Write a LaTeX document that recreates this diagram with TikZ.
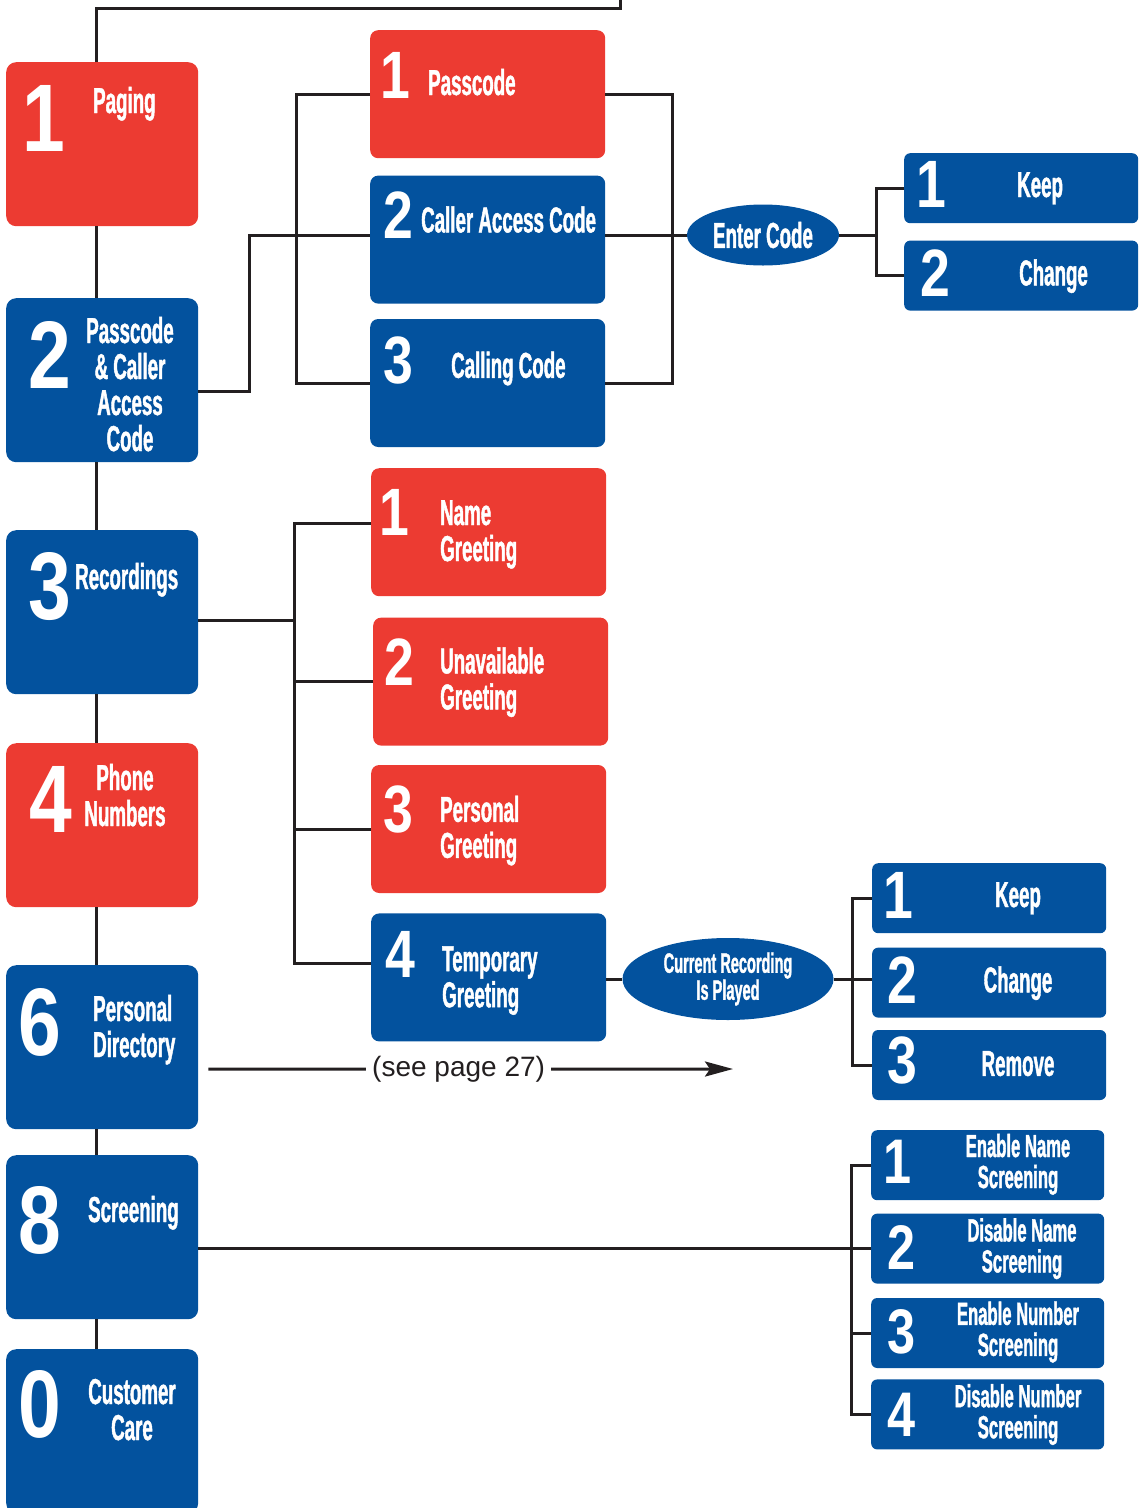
\documentclass[tikz,border=0pt]{standalone}
\usepackage{fontspec}
\setmainfont{Liberation Sans}
\newfontfamily\narrowfont[FakeStretch=0.52, BoldFeatures={FakeBold=1.2}]{Liberation Sans}
\newfontfamily\digitfont[FakeStretch=0.8]{Liberation Sans}
\usetikzlibrary{positioning, shapes.geometric, arrows.meta}

\definecolor{menured}{HTML}{EC3B32}
\definecolor{menublue}{HTML}{03529E}
\definecolor{wiregray}{HTML}{231F20}

\begin{document}
\begin{tikzpicture}
		[
			x=1pt, y=-1pt,
			box/.style={rectangle, rounded corners=8pt, inner sep=0pt},
			mainbox/.style={box, rounded corners=10pt, minimum width=192pt, minimum height=164pt},
			midbox/.style={box, minimum width=235pt, minimum height=128pt},
			sidebox/.style={box, rounded corners=6pt, minimum width=234pt, minimum height=70pt},
			bubble/.style={ellipse, fill=menublue, text=white, inner sep=0pt, align=center},
			bigdigit/.style={text=white, inner sep=0pt, anchor=base west, font=\digitfont\bfseries\fontsize{96}{96}\selectfont},
			digit/.style={text=white, inner sep=0pt, anchor=base west, font=\digitfont\bfseries\fontsize{67}{67}\selectfont},
			smalldigit/.style={digit, font=\digitfont\bfseries\fontsize{63}{63}\selectfont},
			txt/.style={text=white, inner sep=0pt, anchor=base west, font=\narrowfont\bfseries\fontsize{36}{36}\selectfont},
			smalltxt/.style={txt, anchor=base, align=center, font=\narrowfont\bfseries\fontsize{32}{31}\selectfont},
			conn/.style={draw=wiregray, line width=3pt}
		]

		\useasboundingbox (0,0) rectangle (1143,1508);

		% main menu column
		\node (paging) [mainbox, fill=menured, anchor=north west] at (6,62) {};
		\node (access) [mainbox, fill=menublue, anchor=north west] at (6,298) {};
		\node (recordings) [mainbox, fill=menublue, anchor=north west] at (6,530) {};
		\node (phone) [mainbox, fill=menured, anchor=north west] at (6,743) {};
		\node (directory) [mainbox, fill=menublue, anchor=north west] at (6,965) {};
		\node (screening) [mainbox, fill=menublue, anchor=north west] at (6,1155) {};
		\node (care) [mainbox, fill=menublue, anchor=north west] at (6,1349) {};

		% multi-line texts sit on the baseline of their last line
		\node (paging-num) [bigdigit] at ([shift={(16,89)}]paging.north west) {1};
		\node (paging-txt) [txt] at ([shift={(87,51)}]paging.north west) {Paging};
		\node (access-num) [bigdigit] at ([shift={(22,90)}]access.north west) {2};
		\node (access-txt) [txt, anchor=base, align=center] at ([shift={(124,153)}]access.north west) {Passcode\\\& Caller\\Access\\Code};
		\node (recordings-num) [bigdigit] at ([shift={(22,89)}]recordings.north west) {3};
		\node (recordings-txt) [txt] at ([shift={(69,59)}]recordings.north west) {Recordings};
		\node (phone-num) [bigdigit] at ([shift={(23,89)}]phone.north west) {4};
		\node (phone-txt) [txt, anchor=base, align=center] at ([shift={(119,83)}]phone.north west) {Phone\\Numbers};
		\node (directory-num) [bigdigit] at ([shift={(12,90)}]directory.north west) {6};
		\node (directory-txt) [txt, align=left] at ([shift={(87,92)}]directory.north west) {Personal\\Directory};
		\node (screening-num) [bigdigit] at ([shift={(12,98)}]screening.north west) {8};
		\node (screening-txt) [txt] at ([shift={(82,67)}]screening.north west) {Screening};
		\node (care-num) [bigdigit] at ([shift={(12,88)}]care.north west) {0};
		\node (care-txt) [txt, anchor=base, align=center] at ([shift={(126,91)}]care.north west) {Customer\\Care};

		% passcode submenu
		\node (passcode) [midbox, fill=menured, anchor=north west] at (370,30) {};
		\node (caller) [midbox, fill=menublue, below=17pt of passcode] {};
		\node (calling) [midbox, fill=menublue, below=15pt of caller] {};

		\node (passcode-num) [digit] at ([shift={(10,68)}]passcode.north west) {1};
		\node (passcode-txt) [txt] at ([shift={(58,65)}]passcode.north west) {Passcode};
		\node (caller-num) [digit] at ([shift={(13,63)}]caller.north west) {2};
		\node (caller-txt) [txt] at ([shift={(51,57)}]caller.north west) {Caller Access Code};
		\node (calling-num) [digit] at ([shift={(13,65)}]calling.north west) {3};
		\node (calling-txt) [txt] at ([shift={(81,59)}]calling.north west) {Calling Code};

		\node (enter) [bubble, minimum width=152pt, minimum height=61pt, font=\narrowfont\bfseries\fontsize{36}{36}\selectfont] at (763,235) {Enter Code};

		\node (keepa) [sidebox, fill=menublue, anchor=north west] at (904,153) {};
		\node (changea) [sidebox, fill=menublue, below=17pt of keepa] {};
		\node (keepa-num) [digit] at ([shift={(12,54)}]keepa.north west) {1};
		\node (keepa-txt) [txt] at ([shift={(113,44)}]keepa.north west) {Keep};
		\node (changea-num) [digit] at ([shift={(16,56)}]changea.north west) {2};
		\node (changea-txt) [txt] at ([shift={(115,45)}]changea.north west) {Change};

		% greetings submenu
		\node (namegr) [midbox, fill=menured, anchor=north west] at (371,468) {};
		\node (unavail) [midbox, fill=menured, below=21pt of namegr, xshift=2pt] {};
		\node (persgr) [midbox, fill=menured, below=19pt of unavail, xshift=-2pt] {};
		\node (tempgr) [midbox, fill=menublue, below=20pt of persgr] {};

		\node (namegr-num) [digit] at ([shift={(8,67)}]namegr.north west) {1};
		\node (namegr-txt) [txt, align=left] at ([shift={(69,93)}]namegr.north west) {Name\\Greeting};
		\node (unavail-num) [digit] at ([shift={(11,68)}]unavail.north west) {2};
		\node (unavail-txt) [txt, align=left] at ([shift={(67,92)}]unavail.north west) {Unavailable\\Greeting};
		\node (persgr-num) [digit] at ([shift={(12,68)}]persgr.north west) {3};
		\node (persgr-txt) [txt, align=left] at ([shift={(69,93)}]persgr.north west) {Personal\\Greeting};
		\node (tempgr-num) [digit] at ([shift={(14,64)}]tempgr.north west) {4};
		\node (tempgr-txt) [txt, align=left] at ([shift={(71,94)}]tempgr.north west) {Temporary\\Greeting};

		\node (played) [bubble, minimum width=211pt, minimum height=82pt, font=\narrowfont\bfseries\fontsize{28}{27}\selectfont] at (728,979) {Current Recording\\Is Played};

		\node (keepb) [sidebox, fill=menublue, anchor=north west] at (872,863) {};
		\node (changeb) [sidebox, fill=menublue, below=14pt of keepb] {};
		\node (removeb) [sidebox, fill=menublue, below=12pt of changeb] {};
		\node (keepb-num) [digit] at ([shift={(11,55)}]keepb.north west) {1};
		\node (keepb-txt) [txt, anchor=base] at ([shift={(146,44)}]keepb.north west) {Keep};
		\node (changeb-num) [digit] at ([shift={(15,56)}]changeb.north west) {2};
		\node (changeb-txt) [txt, anchor=base] at ([shift={(146,45)}]changeb.north west) {Change};
		\node (removeb-num) [digit] at ([shift={(15,54)}]removeb.north west) {3};
		\node (removeb-txt) [txt, anchor=base] at ([shift={(146,46)}]removeb.north west) {Remove};

		% screening submenu
		\node (enname) [sidebox, fill=menublue, minimum width=233pt, anchor=north west] at (871,1130) {};
		\node (disname) [sidebox, fill=menublue, minimum width=233pt, below=13pt of enname] {};
		\node (ennum) [sidebox, fill=menublue, minimum width=233pt, below=14pt of disname] {};
		\node (disnum) [sidebox, fill=menublue, minimum width=233pt, below=11pt of ennum] {};

		\node (enname-num) [smalldigit] at ([shift={(12,53)}]enname.north west) {1};
		\node (enname-txt) [smalltxt] at ([shift={(147,58)}]enname.north west) {Enable Name\\Screening};
		\node (disname-num) [smalldigit] at ([shift={(16,56)}]disname.north west) {2};
		\node (disname-txt) [smalltxt] at ([shift={(151,59)}]disname.north west) {Disable Name\\Screening};
		\node (ennum-num) [smalldigit] at ([shift={(16,56)}]ennum.north west) {3};
		\node (ennum-txt) [smalltxt] at ([shift={(147,58)}]ennum.north west) {Enable Number\\Screening};
		\node (disnum-num) [smalldigit] at ([shift={(16,57)}]disnum.north west) {4};
		\node (disnum-txt) [smalltxt] at ([shift={(147,59)}]disnum.north west) {Disable Number\\Screening};

		% connectors
		\coordinate (topbend) at (620,8);
		\coordinate (topend) at (620,0);
		\coordinate (entertie) at ([xshift=-28pt]keepa.west);
		\coordinate (greetbar) at ([xshift=-77pt]namegr.west);
		\coordinate (playtie) at ([xshift=-20pt]keepb.west);
		\coordinate (screentie) at ([xshift=-20pt]enname.west);
		\coordinate (seepage) at (733,1069);

		\draw[conn] ([xshift=-6pt]paging.north) |- (topbend) -- (topend);
		\draw[conn] ([xshift=-6pt]paging.south) -- ([xshift=-6pt]access.north);
		\draw[conn] ([xshift=-6pt]access.south) -- ([xshift=-6pt]recordings.north);
		\draw[conn] ([xshift=-6pt]recordings.south) -- ([xshift=-6pt]phone.north);
		\draw[conn] ([xshift=-6pt]phone.south) -- ([xshift=-6pt]directory.north);
		\draw[conn] ([xshift=-6pt]directory.south) -- ([xshift=-6pt]screening.north);
		\draw[conn] ([xshift=-6pt]screening.south) -- ([xshift=-6pt]care.north);

		\draw[conn] ([yshift=-11pt]access.east) -- ++(51,0) |- (caller.west |- enter);
		\draw[conn] (passcode.west) -- ++(-74,0) |- (calling.west);
		\draw[conn] (passcode.east) -- ++(67,0) |- (calling.east);
		\draw[conn] (caller.east |- enter) -- (enter);
		\draw[conn] (enter) -- (enter -| entertie);
		\draw[conn] (keepa.west) -- (entertie) |- (changea.west);

		\draw[conn] ([yshift=-8pt]recordings.east) -- ([yshift=-8pt]recordings.east -| greetbar);
		\draw[conn] ([yshift=9pt]namegr.west) -| (greetbar) |- ([yshift=14pt]tempgr.west);
		\draw[conn] (unavail.west) -- (unavail.west -| greetbar);
		\draw[conn] (persgr.west) -- (persgr.west -| greetbar);
		\draw[conn] (tempgr.east |- played) -- (played);
		\draw[conn] (played) -- (played -| changeb.west);
		\draw[conn] (keepb.west) -- (playtie) |- (removeb.west);

		\draw[conn, -{Stealth[length=28pt, width=15pt, inset=5pt]}] ([xshift=10pt, yshift=-22pt]directory.east) -- node[pos=0.477, fill=white, inner xsep=6pt, inner ysep=2pt, text=wiregray, font=\fontsize{28}{28}\selectfont] (seetext) {(see page 27)} (seepage);

		\draw[conn] (screening.east |- disname.west) -- (disname.west);
		\draw[conn] (enname.west) -- (screentie) |- (disnum.west);
		\draw[conn] (ennum.west) -- (ennum.west -| screentie);
	\end{tikzpicture}
\end{document}
